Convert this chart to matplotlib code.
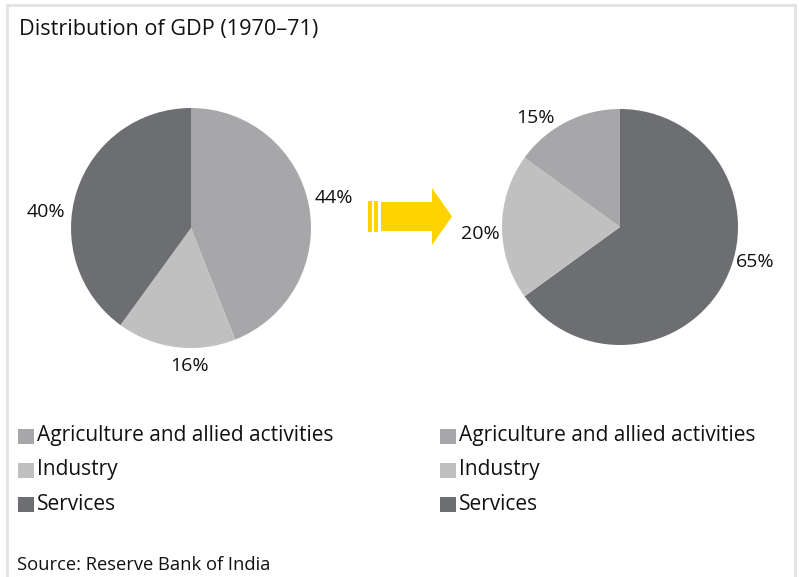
import matplotlib
matplotlib.use('Agg')
import matplotlib.pyplot as plt
import matplotlib.patches as patches

W, H = 799, 577

# Data
sectors = ['Agriculture and allied activities', 'Industry', 'Services']
share_1971 = [44, 16, 40]
share_2015 = [15, 20, 65]
colors = {'Agriculture and allied activities': '#a7a7a9',
          'Industry': '#c0c0c1',
          'Services': '#6d6e71'}

title = 'Distribution of GDP (1970–71)'
source = 'Source: Reserve Bank of India'

plt.rcParams['font.family'] = ['Open Sans', 'DejaVu Sans']

fig = plt.figure(figsize=(W / 100, H / 100), dpi=100)


def px_axes(x0, y0, w, h):
    """Axes positioned in pixel coords from top-left."""
    return fig.add_axes([x0 / W, 1 - (y0 + h) / H, w / W, h / H])


# background frame
frame = px_axes(0, 0, W, H)
frame.set_xlim(0, W)
frame.set_ylim(H, 0)
frame.axis('off')
frame.plot([7, 7, 795, 795], [H, 5, 5, H], color='#e4e4e4', lw=2.2,
           solid_joinstyle='miter')

frame.text(19, 30, title, fontsize=15.6, va='center', ha='left', color='#111111')
frame.text(17, 565, source, fontsize=13.2, va='center', ha='left', color='#111111')


def draw_pie(cx, cy, r, values, order, label_pos):
    ax = px_axes(cx - r, cy - r, 2 * r, 2 * r)
    vals = [values[sectors.index(s)] for s in order]
    ax.pie(vals, colors=[colors[s] for s in order], startangle=90,
           counterclock=False, radius=1.0,
           wedgeprops=dict(linewidth=0))
    ax.set_xlim(-1, 1)
    ax.set_ylim(-1, 1)
    ax.set_aspect('equal')
    ax.axis('off')
    for s, (lx, ly) in zip(order, label_pos):
        frame.text(lx, ly, f'{values[sectors.index(s)]}%', fontsize=14,
                   ha='center', va='center', color='#111111')


draw_pie(191, 228, 120, share_1971,
         ['Agriculture and allied activities', 'Industry', 'Services'],
         [(334, 198), (189, 366), (46, 212)])
draw_pie(620, 227, 118, share_2015,
         ['Services', 'Industry', 'Agriculture and allied activities'],
         [(755, 262), (480, 234), (535, 118)])

# yellow arrow
yellow = '#ffd200'
frame.add_patch(patches.Rectangle((368, 201), 3.5, 31, color=yellow, lw=0))
frame.add_patch(patches.Rectangle((374, 201), 4, 31, color=yellow, lw=0))
frame.add_patch(patches.Polygon([(381, 202), (432, 202), (432, 188), (452, 216.5),
                                 (432, 245), (432, 231), (381, 231)],
                                closed=True, color=yellow, lw=0))

# legends
for lx in (18, 440):
    for i, s in enumerate(sectors):
        y = 436 + 34 * i
        frame.add_patch(patches.Rectangle((lx, y - 7.5), 16, 15, color=colors[s], lw=0))
        frame.text(lx + 19, y, s, fontsize=15, va='center', ha='left', color='#111111')

fig.savefig('out.png', dpi=100)
